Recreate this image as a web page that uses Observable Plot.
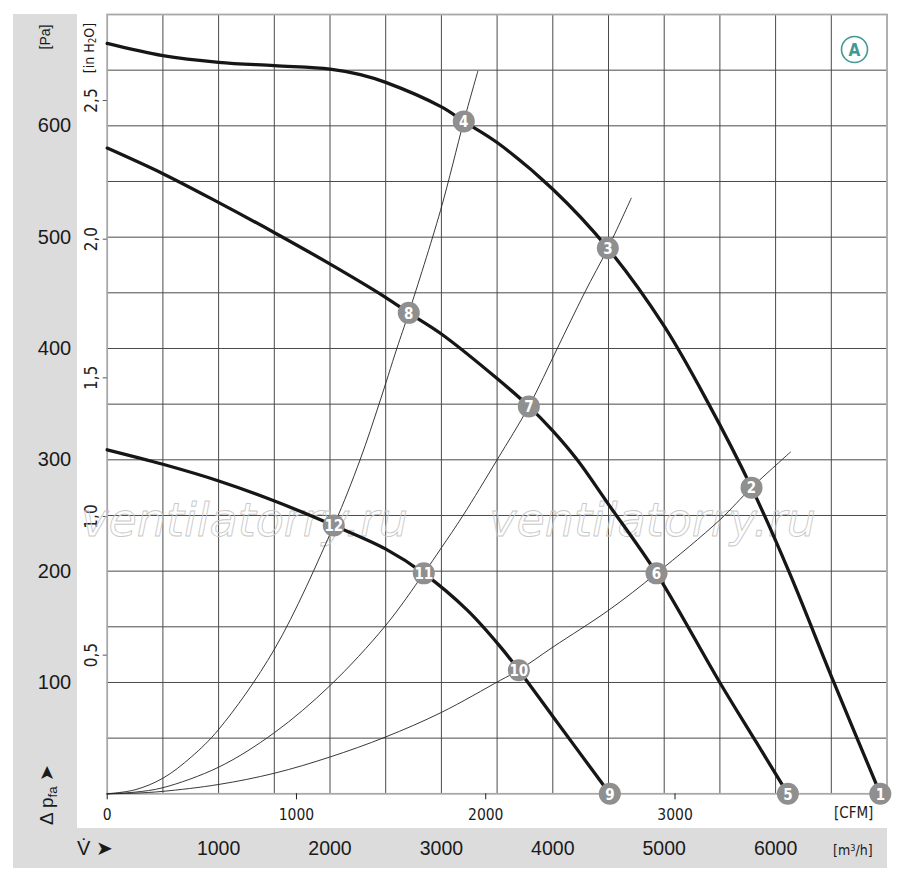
<!DOCTYPE html>
<html><head><meta charset="utf-8">
<script src="https://cdn.jsdelivr.net/npm/d3@7"></script>
<script src="https://cdn.jsdelivr.net/npm/@observablehq/plot@0.6"></script>
<style>
html,body{margin:0;padding:0;background:#fff;}
#wrap{position:relative;width:900px;height:880px;font-family:"Liberation Sans",Arial,sans-serif;color:#1a1a1a;overflow:hidden;}
.band{position:absolute;background:#dcdcdc;}
.lbl{position:absolute;white-space:nowrap;line-height:1;}
.rot{transform:translate(-50%,-50%) rotate(-90deg);}
.narrow{font-family:"Liberation Sans Narrow","Arial Narrow","DejaVu Sans Condensed","Liberation Sans",sans-serif;}
#chart{position:absolute;left:0;top:0;}
sub{font-size:70%;vertical-align:-0.25em;}
sup{font-size:65%;vertical-align:0.45em;}
</style></head><body>
<div id="wrap">
  <div class="band" style="left:13px;top:14px;width:64px;height:854px"></div>
  <div class="band" style="left:13px;top:828px;width:874px;height:40px"></div>
  <div id="chart"></div>
  <div class="lbl rot" style="left:45px;top:37px;font-size:14px">[Pa]</div>
  <div class="lbl rot narrow" style="left:90px;top:48px;font-size:14px">[in H<sub>2</sub>O]</div>
  <div class="lbl rot" style="left:48px;top:795px;font-size:19px">Δ p<sub>fa</sub> ➤</div>
  <div class="lbl" style="left:77px;top:838px;font-size:20px">V̇ ➤</div>
  <div class="lbl narrow" style="left:834px;top:806px;font-size:15px">[CFM]</div>
  <div class="lbl narrow" style="left:833px;top:843px;font-size:14px">[m<sup>3</sup>/h]</div>
</div>
<script>
// ---- axis ticks ----
const gridFlow = [500,1000,1500,2000,2500,3000,3500,4000,4500,5000,5500,6000,6500];
const gridPres = [50,100,150,200,250,300,350,400,450,500,550,600,650];
const paTicks = [100,200,300,400,500,600];
const m3hTicks = [1000,2000,3000,4000,5000,6000];
const cfmTicks = [0,1000,2000,3000];
const cfmToM3h = 1.699011;
const inH2OTicks = [0.5,1.0,1.5,2.0,2.5];
const inH2OLabels = ["0,5","1,0","1,5","2,0","2,5"];
const inH2OToPa = 249.089;

// ---- fan characteristic curves (flow m³/h, pressure Pa) ----
const fanFlow1 = [0,500,1000,1500,2000,2273,2500,3000,3201,3500,4000,4494,5000,5400,5784,6118,6523,6940];
const fanPres1 = [674,663,657,654,651,646,639,617,604,585,543,490,420,350,275,200,100,0];
const fanFlow2 = [0,500,1002,1502,1998,2498,2707,3000,3500,3785,4000,4219,4500,4931,5499,5835,6110];
const fanPres2 = [580,557,531,504,476,446,432,413,373,348,326,300,260,198,100,45,0];
const fanFlow3 = [0,500,1002,1502,2034,2498,2842,3232,3530,3695,4004,4512];
const fanPres3 = [309,296,281,263,241,220,198,165,132,111,69,0];

// ---- system (resistance) curves ----
const sysFlow1 = [0,250,500,754,1002,1502,2034,2270,2440,2600,2707,2992,3201,3327];
const sysPres1 = [0,3.6,14,33,58,130,241,300,350,400,432,524,604,649];
const sysFlow2 = [0,250,500,1002,1502,1998,2498,2842,3000,3194,3500,3785,4040,4285,4494,4704];
const sysPres2 = [0,1.5,5.5,24,55,97,151,198,221,250,300,348,400,450,490,535];
const sysFlow3 = [0,250,500,1002,1502,1998,2498,2998,3530,3695,4004,4503,4931,5499,5784,6134];
const sysPres3 = [0,0.6,2.2,8.4,18.5,33,51,73,102,111,132,165,198,246,275,307];

// ---- operating points ----
const markerNo   = [1,2,3,4,5,6,7,8,9,10,11,12];
const markerFlow = [6940,5784,4494,3201,6110,4931,3785,2707,4512,3695,2842,2034];
const markerPres = [0,275,490,604,0,198,348,432,0,111,198,241];

const toRows = (fx, fy) => fx.map((v, i) => ({flow: v, pres: fy[i]}));
const fans = [toRows(fanFlow1, fanPres1), toRows(fanFlow2, fanPres2), toRows(fanFlow3, fanPres3)];
const systems = [toRows(sysFlow1, sysPres1), toRows(sysFlow2, sysPres2), toRows(sysFlow3, sysPres3)];
const markers = markerNo.map((n, i) => ({n, flow: markerFlow[i], pres: markerPres[i]}));
const h2o = inH2OTicks.map((v, i) => ({pa: v * inH2OToPa, label: inH2OLabels[i]}));

const narrow = '"Liberation Sans Narrow","Arial Narrow","DejaVu Sans Condensed","Liberation Sans",sans-serif';
const fmt = d => String(Math.round(d));

const chart = Plot.plot({
  width: 900,
  height: 880,
  marginLeft: 106.7,
  marginRight: 13.5,
  marginTop: 14,
  marginBottom: 86.7,
  style: {background: "transparent", fontFamily: '"Liberation Sans",Arial,sans-serif', color: "#1a1a1a"},
  x: {domain: [0, 7000]},
  y: {domain: [0, 700]},
  marks: [
    Plot.gridX(gridFlow, {stroke: "#4a4a4a", strokeOpacity: 1, strokeWidth: 1}),
    Plot.gridY(gridPres, {stroke: "#4a4a4a", strokeOpacity: 1, strokeWidth: 1}),
    Plot.frame({stroke: "#a8a8a8", strokeWidth: 1.8}),
    // Pa axis
    Plot.axisY(paTicks, {anchor: "left", tickSize: 0, tickPadding: 36, fontSize: 20, tickFormat: fmt, label: null}),
    // in H2O ticks + labels
    Plot.axisY(h2o.map(d => d.pa), {anchor: "left", tickSize: 4, tickFormat: () => "", label: null, stroke: "#555"}),
    Plot.text(h2o, {y: "pa", text: "label", frameAnchor: "left", dx: -16, rotate: -90, textAnchor: "middle", lineAnchor: "middle", fontSize: 17, fontFamily: narrow, fill: "#222"}),
    // CFM axis
    Plot.axisX(cfmTicks.map(c => c * cfmToM3h), {anchor: "bottom", tickSize: 6, tickPadding: 9, fontSize: 15.5, fontFamily: narrow, tickFormat: d => fmt(d / cfmToM3h), label: null}),
    // m3/h axis
    Plot.axisX(m3hTicks, {anchor: "bottom", tickSize: 0, tickPadding: 47, fontSize: 19.5, tickFormat: fmt, label: null}),
    // watermark
    Plot.text(["ventilatorry.ru"], {frameAnchor: "top-left", dx: -26, dy: 521, textAnchor: "start", lineAnchor: "bottom", fontSize: 46, fontFamily: "DejaVu Sans", fontStyle: "italic", fontWeight: 300, fill: "none", stroke: "#c8c8c8", strokeWidth: 0.9}),
    Plot.text(["ventilatorry.ru"], {frameAnchor: "top-left", dx: 382, dy: 521, textAnchor: "start", lineAnchor: "bottom", fontSize: 46, fontFamily: "DejaVu Sans", fontStyle: "italic", fontWeight: 300, fill: "none", stroke: "#c8c8c8", strokeWidth: 0.9}),
    // system curves
    ...systems.map(s => Plot.line(s, {x: "flow", y: "pres", curve: "catmull-rom", stroke: "#222", strokeWidth: 0.9})),
    // fan curves
    ...fans.map(f => Plot.line(f, {x: "flow", y: "pres", curve: "catmull-rom", stroke: "#161616", strokeWidth: 3.3})),
    // operating points
    Plot.dot(markers, {x: "flow", y: "pres", r: 11, fill: "#8f8f8f", stroke: "none"}),
    Plot.text(markers, {x: "flow", y: "pres", text: d => String(d.n), fill: "white", fontWeight: "bold", fontSize: 15, fontFamily: narrow, dy: 1}),
    // badge A
    Plot.dot([0], {frameAnchor: "top-right", dx: -32.5, dy: 35, r: 13, fill: "white", stroke: "#3f9a94", strokeWidth: 1.6}),
    Plot.text(["A"], {frameAnchor: "top-right", dx: -32.5, dy: 36, textAnchor: "middle", lineAnchor: "middle", fill: "#3f9a94", fontWeight: "bold", fontSize: 17, fontFamily: narrow})
  ]
});
document.getElementById("chart").appendChild(chart);
</script>
</body></html>
